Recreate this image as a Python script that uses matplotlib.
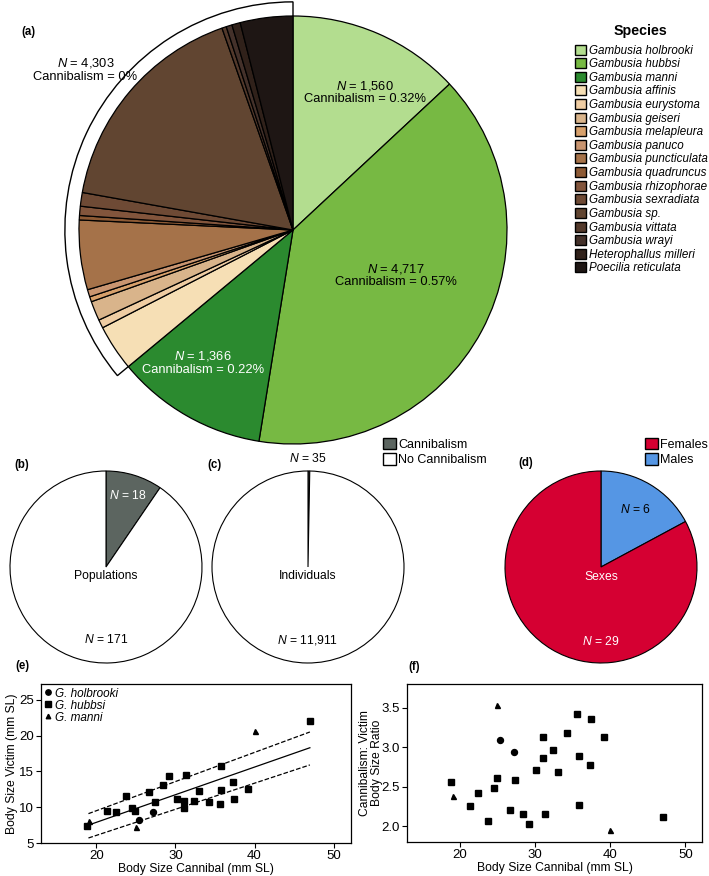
import numpy as np
import matplotlib.pyplot as plt
from matplotlib.patches import Wedge, Patch

plt.rcParams['font.family'] = ['Liberation Sans', 'DejaVu Sans']
plt.rcParams['mathtext.fontset'] = 'custom'
plt.rcParams['mathtext.rm'] = 'Liberation Sans'
plt.rcParams['mathtext.it'] = 'Liberation Sans:italic'
plt.rcParams['mathtext.bf'] = 'Liberation Sans:bold'

# --- data -------------------------------------------------------------
species = ['Gambusia holbrooki', 'Gambusia hubbsi', 'Gambusia manni',
           'Gambusia affinis', 'Gambusia eurystoma', 'Gambusia geiseri',
           'Gambusia melapleura', 'Gambusia panuco', 'Gambusia puncticulata',
           'Gambusia quadruncus', 'Gambusia rhizophorae', 'Gambusia sexradiata',
           'Gambusia sp.', 'Gambusia vittata', 'Gambusia wrayi',
           'Heterophallus milleri', 'Poecilia reticulata']
species_n = [1560, 4717, 1366, 415, 76, 176, 46, 66, 627, 40, 83, 123,
             2008, 40, 53, 76, 474]
species_colors = ['#b3dd8f', '#77b943', '#2b8a2f', '#f6dfb5', '#efcda3',
                  '#d9b48b', '#d7a06b', '#c99570', '#a57249', '#8d5a35',
                  '#82553c', '#6e4a35', '#614531', '#53392b', '#44312a',
                  '#30211a', '#1e1614']

pop_labels = ['Cannibalism', 'No Cannibalism']
pop_n = [18, 171]
ind_n = [35, 11911]
pop_colors = ['#5c6560', 'white']

sex_labels = ['Males', 'Females']
sex_n = [6, 29]
sex_colors = ['#5596e4', '#d50032']

# body size data (mm SL)
holbrooki_cannibal = [25.4, 27.2]
holbrooki_victim = [8.2, 9.3]
holbrooki_ratio = [3.09, 2.94]
hubbsi_cannibal = [18.8, 21.4, 22.5, 23.8, 24.5, 24.9, 26.7, 27.4, 28.4, 29.2,
                   30.2, 31.1, 31.1, 31.3, 32.4, 33.0, 34.2, 35.6, 35.8, 35.8,
                   37.3, 37.4, 39.2, 47.0]
hubbsi_victim = [7.4, 9.5, 9.3, 11.6, 9.9, 9.5, 12.1, 10.7, 13.1, 14.3,
                 11.2, 10.9, 9.9, 14.5, 10.9, 12.3, 10.7, 10.4, 12.4, 15.8,
                 13.5, 11.2, 12.6, 22.1]
hubbsi_ratio = [2.56, 2.25, 2.42, 2.06, 2.48, 2.61, 2.20, 2.58, 2.16, 2.03,
                2.71, 2.86, 3.13, 2.16, 2.97, 2.69, 3.18, 3.42, 2.89, 2.27,
                2.78, 3.36, 3.13, 2.12]
manni_cannibal = [19.1, 25.0, 40.0]
manni_victim = [8.1, 7.2, 20.7]
manni_ratio = [2.38, 3.53, 1.95]

# regression line and interval ends
fit_x = [19.0, 47.0]
fit_y = [7.5, 18.3]
fit_upper = [9.1, 20.5]
fit_lower = [5.7, 15.9]

# --- figure -----------------------------------------------------------
W, H = 709, 876
fig = plt.figure(figsize=(W / 100, H / 100), dpi=100)
PAD = 1.1


def pie_axes(cx, cy, r):
    half = r * PAD
    ax = fig.add_axes([(cx - half) / W, (H - cy - half) / H, 2 * half / W, 2 * half / H])
    ax.axis('off')
    return ax


def fix_limits(ax):
    ax.set_xlim(-PAD, PAD)
    ax.set_ylim(-PAD, PAD)
    ax.set_aspect('equal')


# (a) species pie
ax_a = pie_axes(293, 230, 214)
ax_a.pie(species_n, colors=species_colors, startangle=90, counterclock=False,
         radius=1, wedgeprops=dict(edgecolor='black', linewidth=0.9, zorder=3))
zero_share = sum(species_n[3:]) / sum(species_n)
ax_a.add_patch(Wedge((0, 0), 1.066, 90, 90 + 360 * zero_share, facecolor='white',
                     edgecolor='black', linewidth=1.0, zorder=1))
fix_limits(ax_a)
fs = 9.3
ax_a.text(-0.97, 0.75, '$N$ = 4,303\nCannibalism = 0%', ha='center', va='center',
          fontsize=fs, linespacing=1.05)
ax_a.text(0.335, 0.645, '$N$ = 1,560\nCannibalism = 0.32%', ha='center', va='center',
          fontsize=fs, linespacing=1.05)
ax_a.text(0.48, -0.21, '$N$ = 4,717\nCannibalism = 0.57%', ha='center', va='center',
          fontsize=fs, linespacing=1.05)
ax_a.text(-0.42, -0.62, '$N$ = 1,366\nCannibalism = 0.22%', ha='center', va='center',
          fontsize=fs, linespacing=1.05, color='white')

fig.text(640 / W, 1 - 31 / H, 'Species', fontsize=10.3, fontweight='bold',
         ha='center', va='center')
species_handles = [Patch(facecolor=c, edgecolor='black', linewidth=1.0) for c in species_colors]
fig.legend(species_handles, species, loc='upper left', bbox_to_anchor=(575 / W, 1 - 44.5 / H),
           frameon=False, handlelength=0.95,
           handleheight=0.95, handletextpad=0.25, labelspacing=0.135,
           borderaxespad=0, borderpad=0,
           prop={'style': 'italic', 'size': 8.4})

# (b) populations
ax_b = pie_axes(106, 567, 96)
ax_b.pie(pop_n, colors=pop_colors, startangle=90, counterclock=False,
         wedgeprops=dict(edgecolor='black', linewidth=0.8))
fix_limits(ax_b)
ax_b.text(0.23, 0.74, '$N$ = 18', color='white', ha='center', va='center', fontsize=8.7)
ax_b.text(0, -0.09, 'Populations', ha='center', va='center', fontsize=8.7)
ax_b.text(0, -0.76, '$N$ = 171', ha='center', va='center', fontsize=8.7)

# (c) individuals
ax_c = pie_axes(308, 567, 96)
ax_c.pie(ind_n, colors=pop_colors, startangle=90, counterclock=False,
         wedgeprops=dict(edgecolor='black', linewidth=0.8))
fix_limits(ax_c)
ax_c.text(0, 1.125, '$N$ = 35', ha='center', va='center', fontsize=8.7)
ax_c.text(0, -0.09, 'Individuals', ha='center', va='center', fontsize=8.7)
ax_c.text(0, -0.76, '$N$ = 11,911', ha='center', va='center', fontsize=8.7)

pop_handles = [Patch(facecolor=c, edgecolor='black', linewidth=1.0) for c in pop_colors]
fig.legend(pop_handles, pop_labels, loc='upper left', bbox_to_anchor=(383 / W, 1 - 438 / H),
           frameon=False, fontsize=9, handlelength=1.0, handleheight=1.0,
           handletextpad=0.2, labelspacing=0.2, borderaxespad=0, borderpad=0)

# (d) sexes
ax_d = pie_axes(601, 567, 96)
ax_d.pie(sex_n, colors=sex_colors, startangle=90, counterclock=False,
         wedgeprops=dict(edgecolor='black', linewidth=0.8))
fix_limits(ax_d)
ax_d.text(0.36, 0.6, '$N$ = 6', ha='center', va='center', fontsize=8.7)
ax_d.text(0, -0.1, 'Sexes', color='white', ha='center', va='center', fontsize=8.7)
ax_d.text(0, -0.78, '$N$ = 29', color='white', ha='center', va='center', fontsize=8.7)

sex_handles = [Patch(facecolor=c, edgecolor='black', linewidth=1.0) for c in sex_colors[::-1]]
fig.legend(sex_handles, sex_labels[::-1], loc='upper left', bbox_to_anchor=(645 / W, 1 - 438 / H),
           frameon=False, fontsize=9, handlelength=1.0, handleheight=1.0,
           handletextpad=0.2, labelspacing=0.2, borderaxespad=0, borderpad=0)

# panel letters
for label, x, y in [('(a)', 28, 32), ('(b)', 22, 465), ('(c)', 215, 465),
                    ('(d)', 526, 463), ('(e)', 22, 666), ('(f)', 414, 667)]:
    fig.text(x / W, 1 - y / H, label, fontsize=8.3, fontweight='bold', ha='center', va='center')


def style_scatter(ax):
    for s in ax.spines.values():
        s.set_linewidth(0.9)
    ax.tick_params(direction='out', length=3.5, width=0.8, labelsize=9.5, pad=1.5)
    ax.set_xticks([20, 30, 40, 50])
    ax.set_xlim(13, 52.2)
    ax.set_xlabel('Body Size Cannibal (mm SL)', fontsize=8.7, labelpad=1)


# (e) victim vs cannibal size
ax_e = fig.add_axes([41 / W, 33 / H, 310 / W, 159 / H])
ax_e.plot(holbrooki_cannibal, holbrooki_victim, 'o', color='black', ms=4.3, label='G. holbrooki')
ax_e.plot(hubbsi_cannibal, hubbsi_victim, 's', color='black', ms=4.7, label='G. hubbsi')
ax_e.plot(manni_cannibal, manni_victim, '^', color='black', ms=3.6, label='G. manni')
ax_e.plot(fit_x, fit_y, '-', color='black', lw=0.9)
ax_e.plot(fit_x, fit_upper, '--', color='black', lw=0.9)
ax_e.plot(fit_x, fit_lower, '--', color='black', lw=0.9)
style_scatter(ax_e)
ax_e.set_ylim(5, 27.2)
ax_e.set_yticks([5, 10, 15, 20, 25])
ax_e.set_ylabel('Body Size Victim (mm SL)', fontsize=8.7, labelpad=1)
ax_e.legend(loc='upper left', frameon=False, prop={'style': 'italic', 'size': 8.5},
            handlelength=0.6, handletextpad=0.3, labelspacing=0.0, borderaxespad=0.2,
            borderpad=0.1, markerscale=0.9)

# (f) size ratio vs cannibal size
ax_f = fig.add_axes([407 / W, 34 / H, 295 / W, 158 / H])
ax_f.plot(holbrooki_cannibal, holbrooki_ratio, 'o', color='black', ms=4.3)
ax_f.plot(hubbsi_cannibal, hubbsi_ratio, 's', color='black', ms=4.7)
ax_f.plot(manni_cannibal, manni_ratio, '^', color='black', ms=3.6)
style_scatter(ax_f)
ax_f.set_ylim(1.8, 3.8)
ax_f.set_yticks([2.0, 2.5, 3.0, 3.5])
ax_f.set_yticklabels(['2.0', '2.5', '3.0', '3.5'])
ax_f.set_ylabel('Cannibalism: Victim\nBody Size Ratio', fontsize=8.7, labelpad=-1, linespacing=1.0)

fig.savefig('out.png', dpi=100)
